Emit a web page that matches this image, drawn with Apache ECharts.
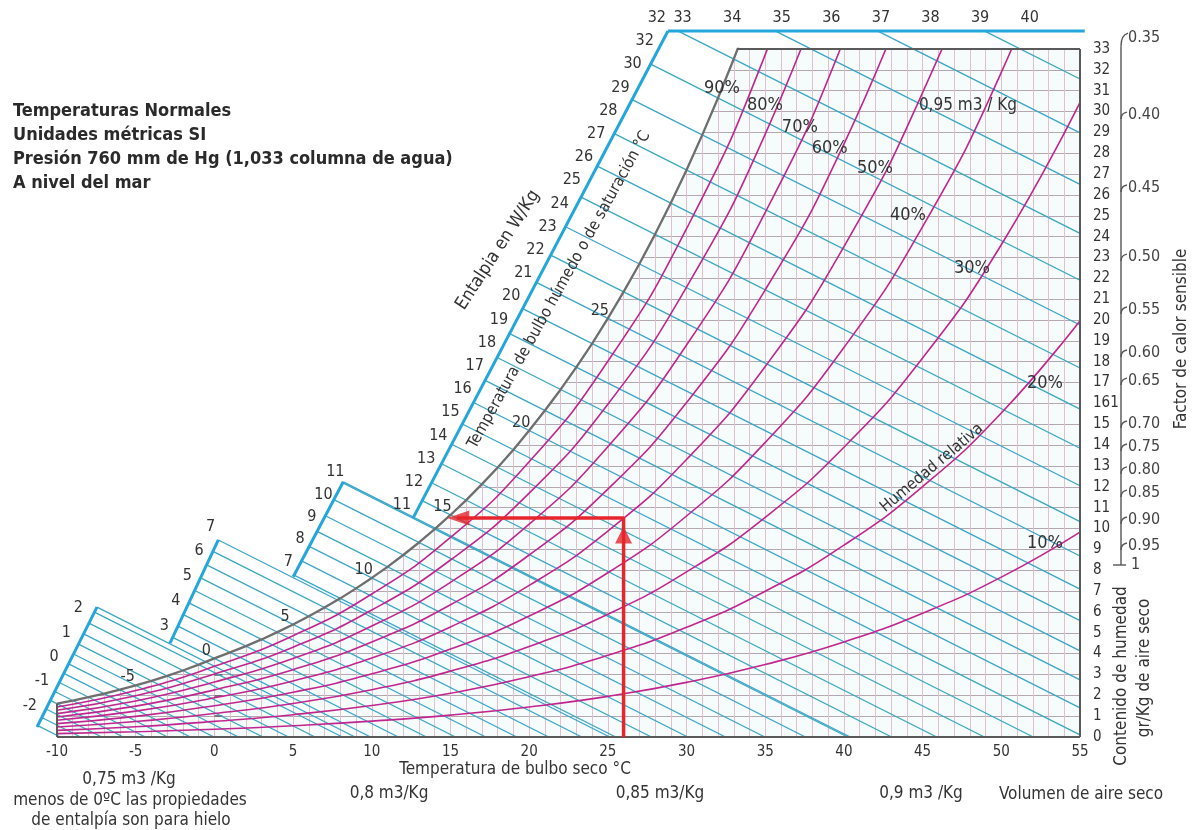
<!DOCTYPE html>
<html>
<head>
<meta charset="utf-8">
<script src="https://cdn.jsdelivr.net/npm/echarts/dist/echarts.min.js"></script>
<style>html,body{margin:0;padding:0;background:#fff;}#chart{width:1197px;height:830px;}</style>
</head>
<body>
<div id="chart"></div>
<script>
// ================= DATA =================
const dryBulbMin = -10, dryBulbMax = 55;
const humidityMin = 0, humidityMax = 33;
const humidityTickLabels = ['0','1','2','3','4','5','6','7','8','9','10','11','12','13','14','15','161','17','18','19','20','21','22','23','24','25','26','27','28','29','30','31','32','33'];

// saturation curve (100 %), g/kg dry air, every 1 °C
const satTemps = [-13,-12,-11,-10,-9,-8,-7,-6,-5,-4,-3,-2,-1,0,1,2,3,4,5,6,7,8,9,10,11,12,13,14,15,16,17,18,19,20,21,22,23,24,25,26,27,28,29,30,31,32,33,34,35,36,37];
const satHumidity = [1.22,1.33,1.46,1.60,1.75,1.91,2.08,2.27,2.48,2.69,2.93,3.19,3.47,3.77,4.06,4.36,4.68,5.03,5.40,5.79,6.21,6.65,7.13,7.63,8.16,8.73,9.33,9.97,10.65,11.36,12.13,12.93,13.78,14.70,15.66,16.67,17.74,18.87,20.08,21.35,22.69,24.11,25.61,27.20,28.88,30.65,32.52,34.49,36.58,38.78,41.12];

// relative humidity curves, g/kg, every 5 °C from -10
const rhTemps = [-10,-5,0,5,10,15,20,25,30,35,40,45,50,55];
const rh10 = [0.16,0.25,0.37,0.54,0.76,1.05,1.44,1.95,2.62,3.48,4.56,5.94,7.67,9.83];
const rh20 = [0.32,0.49,0.75,1.07,1.51,2.10,2.89,3.92,5.26,6.99,9.20,12.01,15.54,19.97];
const rh30 = [0.48,0.74,1.13,1.61,2.27,3.16,4.34,5.89,7.92,10.54,13.90,18.18,23.61,30.44];
const rh40 = [0.64,0.99,1.50,2.15,3.03,4.22,5.80,7.88,10.60,14.13,18.68,24.48,31.88,41.27];
const rh50 = [0.80,1.24,1.88,2.69,3.79,5.28,7.27,9.88,13.31,17.77,23.52,30.91,40.37,52.45];
const rh60 = [0.96,1.48,2.26,3.23,4.56,6.34,8.73,11.89,16.04,21.45,28.44,37.46];
const rh70 = [1.12,1.73,2.64,3.77,5.32,7.42,10.21,13.92,18.80,25.16,33.44,44.15];
const rh80 = [1.28,1.98,3.02,4.31,6.09,8.49,11.70,15.96,21.58,28.92,38.51];
const rh90 = [1.44,2.23,3.39,4.86,6.86,9.57,13.20,18.02,24.38,32.73,43.66];
const rhNames = ['10%','20%','30%','40%','50%','60%','70%','80%','90%'];

const wetBulbLabelTemps = [-5,0,5,10,15,20,25];
const scaleLabelsA = ['-2','-1','0','1','2'];
const scaleLabelsB = ['3','4','5','6','7'];
const scaleLabelsC = ['7','8','9','10','11'];
const scaleLabelsD = ['11','12','13','14','15','16','17','18','19','20','21','22','23','24','25','26','27','28','29','30','32','32'];
const scaleLabelsTop = ['33','34','35','36','37','38','39','40'];

const shfLabels = ['0.35','0.40','0.45','0.50','0.55','0.60','0.65','0.70','0.75','0.80','0.85','0.90','0.95','1'];
const shfHumidityLevel = [33.52,29.83,26.33,23.02,20.48,18.42,17.07,15.01,13.91,12.81,11.70,10.41,9.16,8.25];

const processPoint = [26, 10.5];
const dewPointTemp = 14.8;

// ================= LAYOUT / STYLE =================
const LAYOUT = {
  wbSlope: 0.38,
  scaleSegments: [
    [[-11.27,0.48],[-7.46,6.23]],
    [[-2.82,4.50],[0.25,9.45]],
    [[5.01,7.69],[8.19,12.24]],
    [[12.62,10.50],[28.82,33.86]],
    [[28.82,33.86],[55.3,33.86]]
  ],
  scaleLabelPlacement: [
    {f0:0.18, f1:0.99, dx:-18, dy:0},
    {f0:0.17, f1:1.13, dx:-14, dy:0},
    {f0:0.16, f1:1.10, dx:-13, dy:0},
    {f0:0.027, f1:1.027, dx:-18, dy:0},
    {f0:0.035, f1:0.868, dx:0, dy:-13}
  ],
  rhLabelAt: [[52.77,9.3],[52.77,16.98],[48.13,22.49],[44.07,25.04],[41.97,27.29],[39.1,28.25],[37.2,29.26],[34.98,30.31],[32.25,31.13]],
  notes: [
    {at:[47.88,30.31], text:'0,95 m3 / Kg', rot:0, size:17},
    {at:[45.59,12.9], text:'Humedad relativa', rot:40, size:16},
    {at:[21.9,21.44], text:'Temperatura de bulbo húmedo o de saturación °C', rot:61, size:16},
    {at:[18.02,23.36], text:'Entalpia en W/Kg', rot:57, size:18}
  ],
  shfOffset: 41
};
const FN = "'DejaVu Sans Condensed','Liberation Sans Narrow',sans-serif";
const TXT = '#333';
const CYAN = '#3aa6c6', BLUE = '#23a6da', MAGENTA = '#c0268f', SAT = '#6e6e6e', BORDER = '#5a5a5a', RED = '#e6262c';

// ================= helpers =================
function satAt(t){
  for (let i=0;i<satTemps.length-1;i++){
    if (t>=satTemps[i] && t<=satTemps[i+1]){
      const f=(t-satTemps[i])/(satTemps[i+1]-satTemps[i]);
      return satHumidity[i]+f*(satHumidity[i+1]-satHumidity[i]);
    }
  }
  return null;
}
function tempAtSat(w){
  for (let i=0;i<satHumidity.length-1;i++){
    if (w>=satHumidity[i] && w<=satHumidity[i+1]){
      const f=(w-satHumidity[i])/(satHumidity[i+1]-satHumidity[i]);
      return satTemps[i]+f*(satTemps[i+1]-satTemps[i]);
    }
  }
  return null;
}
const s = LAYOUT.wbSlope;
function lineEnd(c){ return (c/s <= dryBulbMax) ? [c/s, 0] : [dryBulbMax, c - s*dryBulbMax]; }
function lineStart(c){
  for (const seg of LAYOUT.scaleSegments){
    const p0=seg[0], p1=seg[1];
    const den=(p1[1]-p0[1]) + s*(p1[0]-p0[0]);
    const u=(c - s*p0[0] - p0[1])/den;
    if (u>=-0.001 && u<=1.001) return [p0[0]+u*(p1[0]-p0[0]), p0[1]+u*(p1[1]-p0[1])];
  }
  return null;
}

// wet-bulb (enthalpy) lines through each saturation point
const segs = [];
satTemps.forEach((wb,i)=>{
  const c = satHumidity[i] + s*wb;
  const a = lineStart(c);
  if (!a) return;
  const b = lineEnd(c);
  if (b[1] > humidityMax + 1) return;
  segs.push({a, b, color:CYAN, w:1.3});
});
LAYOUT.scaleSegments.slice(0,3).forEach(seg=>{
  const p=seg[1]; const c=p[1]+s*p[0];
  segs.push({a:p, b:lineEnd(c), color:CYAN, w:1.3});
});
const blueSegs = LAYOUT.scaleSegments.map(seg=>({a:seg[0], b:seg[1], color:BLUE, w:3}));
const tTop = tempAtSat(humidityMax);
const borderSegs = [
  {a:[dryBulbMin,0], b:[dryBulbMax,0], color:BORDER, w:2},
  {a:[dryBulbMax,0], b:[dryBulbMax,humidityMax], color:BORDER, w:2},
  {a:[tTop,humidityMax], b:[dryBulbMax,humidityMax], color:BORDER, w:2},
  {a:[dryBulbMin,0], b:[dryBulbMin,satAt(dryBulbMin)], color:BORDER, w:2}
];

function segSeries(list, z){
  return {type:'custom', coordinateSystem:'cartesian2d', z, silent:true, clip:false,
    data:list.map((q,i)=>[q.a[0], q.a[1], i]),
    renderItem:(p,api)=>{
      const q=list[api.value(2)];
      const p0=api.coord(q.a), p1=api.coord(q.b);
      return {type:'line', shape:{x1:p0[0],y1:p0[1],x2:p1[0],y2:p1[1]}, style:{stroke:q.color, lineWidth:q.w}};
    }};
}

// text items anchored in data space
const texts = [];
const rhArrays = [rh10,rh20,rh30,rh40,rh50,rh60,rh70,rh80,rh90];
rhNames.forEach((n,i)=>texts.push({at:LAYOUT.rhLabelAt[i], text:n, size:18, dx:0, dy:0, rot:0}));
LAYOUT.notes.forEach(n=>texts.push({at:n.at, text:n.text, size:n.size, dx:0, dy:0, rot:n.rot}));
wetBulbLabelTemps.forEach(t=>texts.push({at:[t, satAt(t)], text:String(t), size:16, dx:-8, dy:-8, rot:0}));
[scaleLabelsA,scaleLabelsB,scaleLabelsC,scaleLabelsD,scaleLabelsTop].forEach((labels,k)=>{
  const seg=LAYOUT.scaleSegments[k], pl=LAYOUT.scaleLabelPlacement[k];
  labels.forEach((lab,j)=>{
    const f = pl.f0 + (labels.length>1 ? j*(pl.f1-pl.f0)/(labels.length-1) : 0);
    const at=[seg[0][0]+f*(seg[1][0]-seg[0][0]), seg[0][1]+f*(seg[1][1]-seg[0][1])];
    texts.push({at, text:lab, size:16, dx:pl.dx, dy:pl.dy, rot:0});
  });
});

// cover polygon (white area above the saturation curve)
const coverPts = [];
satTemps.forEach((t,i)=>{ if (t>=dryBulbMin && t<=34) coverPts.push([t, satHumidity[i]]); });
coverPts.push([34, humidityMax+3]); coverPts.push([dryBulbMin, humidityMax+3]);

const series = [];
series.push({type:'custom', coordinateSystem:'cartesian2d', z:1, silent:true, clip:false, data:[[0,0]],
  renderItem:(p,api)=>({type:'polygon', shape:{points:coverPts.map(d=>api.coord(d))}, style:{fill:'#ffffff'}})});
series.push(segSeries(segs, 2));
rhArrays.forEach((arr,i)=>{
  series.push({type:'line', name:rhNames[i], z:3, silent:true, symbol:'none', smooth:0.5, clip:true,
    data:arr.map((w,j)=>[rhTemps[j], w]), lineStyle:{color:MAGENTA, width:1.6}});
});
series.push({type:'line', name:'100%', z:4, silent:true, symbol:'none', clip:true,
  data:satTemps.map((t,i)=>[t, satHumidity[i]]).filter(d=>d[0]>=dryBulbMin),
  lineStyle:{color:SAT, width:2.3}});
series.push(segSeries(blueSegs, 4));
series.push(segSeries(borderSegs, 5));
// red process arrows
series.push({type:'line', z:6, silent:true, symbol:'none', clip:false,
  data:[[processPoint[0],0], processPoint, [dewPointTemp+0.6, processPoint[1]]],
  lineStyle:{color:RED, width:3.5}});
series.push({type:'scatter', z:6, silent:true, clip:false,
  data:[
    {value:processPoint, symbol:'triangle', symbolSize:[17,17], symbolOffset:[0,17], symbolRotate:0},
    {value:[dewPointTemp, processPoint[1]], symbol:'triangle', symbolSize:[15,22], symbolOffset:[11,0], symbolRotate:90}
  ],
  itemStyle:{color:RED}});
// texts
series.push({type:'custom', coordinateSystem:'cartesian2d', z:7, silent:true, clip:false,
  data:texts.map((t,i)=>[t.at[0], t.at[1], i]),
  renderItem:(p,api)=>{
    const t=texts[api.value(2)]; const c=api.coord(t.at);
    return {type:'text', x:c[0]+t.dx, y:c[1]+t.dy, rotation:t.rot*Math.PI/180,
      style:{text:t.text, font:t.size+'px '+FN, fill:TXT, align:'center', verticalAlign:'middle'}};
  }});
// sensible heat factor scale
series.push({type:'custom', coordinateSystem:'cartesian2d', z:7, silent:true, clip:false, data:[[dryBulbMax,0]],
  renderItem:(p,api)=>{
    const x0 = api.coord([dryBulbMax,0])[0] + LAYOUT.shfOffset;
    const ys = shfHumidityLevel.map(w=>api.coord([dryBulbMax,w])[1]);
    const st = {stroke:'#555', lineWidth:1.4, fill:null};
    const ch = [{type:'line', shape:{x1:x0,y1:ys[0]+8,x2:x0,y2:ys[ys.length-1]}, style:st}];
    ys.forEach((y,i)=>{
      const last = i===ys.length-1;
      if (last) ch.push({type:'line', shape:{x1:x0-8,y1:y,x2:x0+5,y2:y}, style:st});
      else if (i===0) ch.push({type:'bezierCurve', shape:{x1:x0,y1:y+8,cpx1:x0,cpy1:y-3,x2:x0+7,y2:y-5}, style:st});
      else ch.push({type:'bezierCurve', shape:{x1:x0,y1:y+4,cpx1:x0,cpy1:y-2,x2:x0+6,y2:y-3}, style:st});
      ch.push({type:'text', x:x0+(last?10:7), y:y, style:{text:shfLabels[i], font:'16px '+FN, fill:'#444', align:'left', verticalAlign:'middle'}});
    });
    return {type:'group', children:ch};
  }});

function gtext(x,y,text,opt){
  opt=opt||{};
  return {type:'text', x, y, rotation:opt.rot||0, z:10, silent:true,
    style:{text, font:(opt.font||('17px '+FN)), fill:opt.fill||TXT, align:opt.align||'center', verticalAlign:'middle'}};
}
const titleLines = ['Temperaturas Normales','Unidades métricas SI','Presión 760 mm de Hg (1,033 columna de agua)','A nivel del mar'];

const option = {
  animation:false,
  backgroundColor:'#ffffff',
  grid:{left:57, right:117, top:49, bottom:93, show:true, backgroundColor:'#f6fbfc', borderWidth:0, containLabel:false},
  xAxis:{type:'value', min:dryBulbMin, max:dryBulbMax, interval:5,
    axisLine:{show:false}, axisTick:{show:false},
    axisLabel:{color:TXT, fontFamily:FN, fontSize:15, margin:8},
    splitLine:{show:true, lineStyle:{color:'#e4bfd0', width:1}},
    minorTick:{show:false, splitNumber:5},
    minorSplitLine:{show:true, lineStyle:{color:'#e4bfd0', width:1}}},
  yAxis:{type:'value', position:'right', min:humidityMin, max:humidityMax, interval:1,
    axisLine:{show:false},
    axisTick:{show:true, inside:false, length:8, lineStyle:{color:BORDER, width:1.5}},
    axisLabel:{color:TXT, fontFamily:FN, fontSize:15, margin:13, formatter:v=>humidityTickLabels[v]},
    splitLine:{show:true, lineStyle:{color:'#b4a7b1', width:1}}},
  graphic:[
    ...titleLines.map((t,i)=>gtext(13, 111+i*24, t, {align:'left', font:'bold 18px '+FN, fill:'#2a2a2a'})),
    gtext(129,780,'0,75 m3 /Kg'),
    gtext(130,801,'menos de 0ºC las propiedades'),
    gtext(131,821,'de entalpía son para hielo'),
    gtext(515,770,'Temperatura de bulbo seco °C'),
    gtext(389,794,'0,8 m3/Kg'),
    gtext(660,794,'0,85 m3/Kg'),
    gtext(921,794,'0,9 m3 /Kg'),
    gtext(1081,795,'Volumen de aire seco'),
    gtext(1122,676,'Contenido de humedad',{rot:Math.PI/2}),
    gtext(1145,668,'gr/Kg de aire seco',{rot:Math.PI/2}),
    gtext(1182,339,'Factor de calor sensible',{rot:Math.PI/2})
  ],
  series
};
const chart = echarts.init(document.getElementById('chart'));
chart.setOption(option);
</script>
</body>
</html>
